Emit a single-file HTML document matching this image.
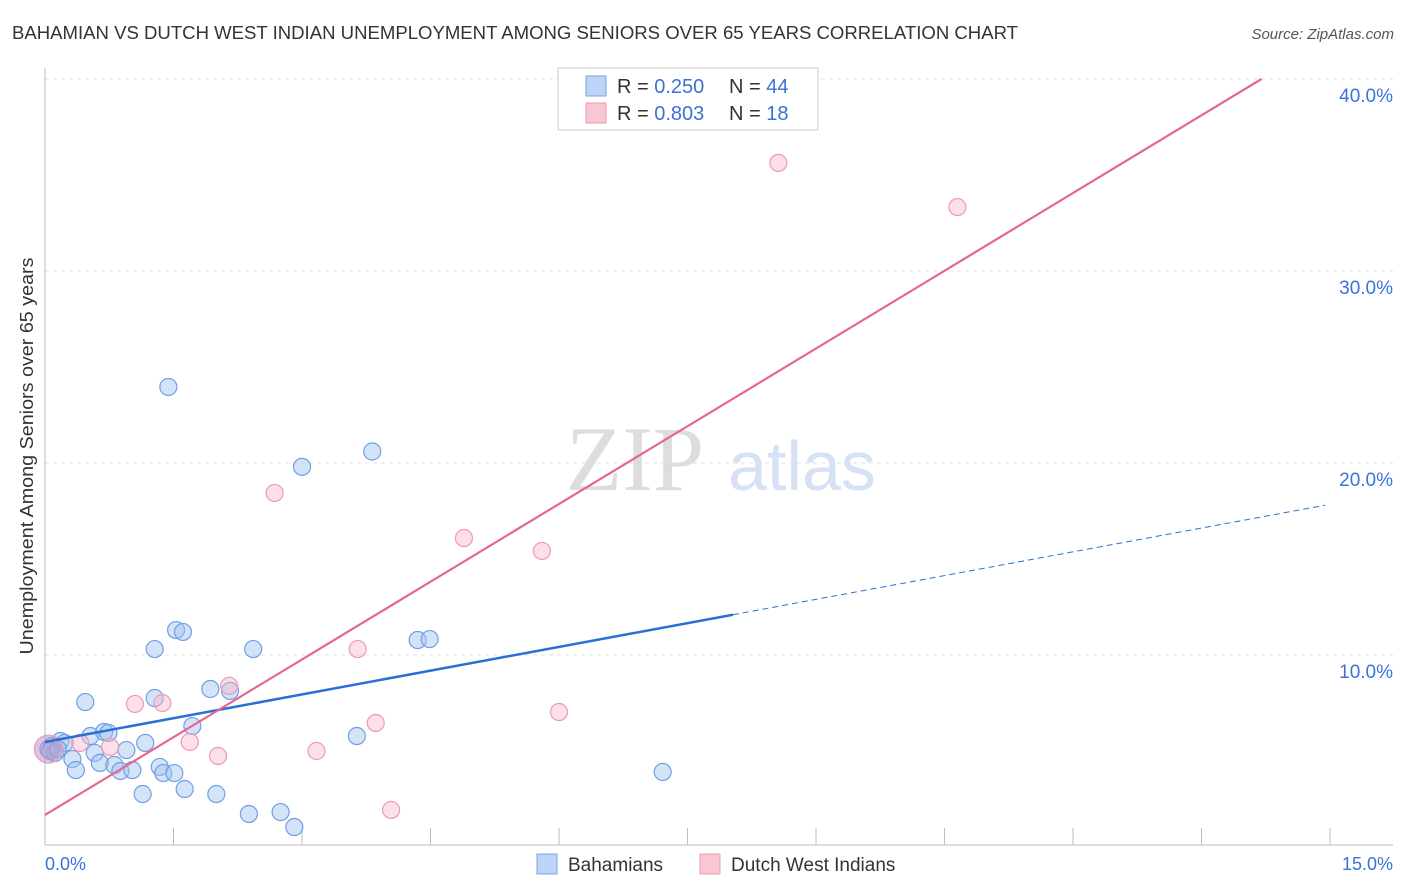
<!DOCTYPE html>
<html><head><meta charset="utf-8"><style>
body{margin:0;background:#fff;font-family:"Liberation Sans",sans-serif}
svg{display:block}
</style></head><body>
<svg width="1406" height="892" xmlns="http://www.w3.org/2000/svg" id="chart">
<text x="12" y="39" font-size="18" fill="#333" textLength="1006" lengthAdjust="spacingAndGlyphs">BAHAMIAN VS DUTCH WEST INDIAN UNEMPLOYMENT AMONG SENIORS OVER 65 YEARS CORRELATION CHART</text>
<text x="1394" y="39" font-size="15" fill="#555" font-style="italic" text-anchor="end">Source: ZipAtlas.com</text>
<g id="grid"></g>
<g>
<text x="635" y="490" font-size="92" fill="#ddd" font-family="Liberation Serif,serif" text-anchor="middle">ZIP</text>
<text x="802" y="490" font-size="70" fill="#d6e2f3" text-anchor="middle">atlas</text>
</g>
<line x1="45" y1="68" x2="45" y2="845" stroke="#bbb"/>
<line x1="45" y1="845" x2="1393" y2="845" stroke="#bbb"/>
<g id="ticks"></g>
<g id="pts"></g>
<g id="lines"></g>
<text transform="translate(33,456) rotate(-90)" font-size="18" fill="#333" text-anchor="middle" textLength="397" lengthAdjust="spacingAndGlyphs">Unemployment Among Seniors over 65 years</text>
<text x="45" y="870" font-size="18" fill="#3a72d8">0.0%</text>
<text x="1393" y="870" font-size="18" fill="#3a72d8" text-anchor="end">15.0%</text>
<g>
<rect x="558" y="68" width="260" height="62" fill="#fff" stroke="#ccc"/>
<rect x="586" y="76" width="20" height="20" fill="#bcd4f5" stroke="#7aa6e6"/>
<rect x="586" y="103" width="20" height="20" fill="#f9c6d4" stroke="#eb9ab1"/>
<text x="617" y="93" font-size="20" fill="#333">R = <tspan fill="#3a72d8">0.250</tspan></text>
<text x="729" y="93" font-size="20" fill="#333">N = <tspan fill="#3a72d8">44</tspan></text>
<text x="617" y="120" font-size="20" fill="#333">R = <tspan fill="#3a72d8">0.803</tspan></text>
<text x="729" y="120" font-size="20" fill="#333">N =  <tspan fill="#3a72d8">18</tspan></text>
</g>
<g>
<rect x="537" y="854" width="20" height="20" fill="#bcd4f5" stroke="#7aa6e6"/>
<text x="568" y="871" font-size="19" fill="#333">Bahamians</text>
<rect x="700" y="854" width="20" height="20" fill="#f9c6d4" stroke="#eb9ab1"/>
<text x="731" y="871" font-size="19" fill="#333">Dutch West Indians</text>
</g>
</svg>
<script>
const yTicks=[10,20,30,40];
const yTickLabels=["10.0%","20.0%","30.0%","40.0%"];
const xTicks=[1.5,3,4.5,6,7.5,9,10.5,12,13.5,15];
const blueX=[0.04,0.08,0.12,0.18,0.23,0.32,0.36,0.47,0.53,0.58,0.64,0.69,0.74,0.81,0.88,0.95,1.02,1.14,1.17,1.28,1.28,1.34,1.38,1.44,1.51,1.53,1.61,1.63,1.72,1.93,2.0,2.16,2.38,2.43,2.75,2.91,3.0,3.64,3.82,4.35,4.49,7.21,0.06,0.15];
const blueY=[5.1,5.26,4.9,5.52,5.42,4.58,4.01,7.55,5.78,4.9,4.38,5.99,5.94,4.27,3.96,5.05,4.01,2.76,5.42,10.31,7.76,4.17,3.85,23.96,3.85,11.3,11.2,3.02,6.3,8.23,2.76,8.13,1.72,10.31,1.82,1.04,19.8,5.78,20.6,10.78,10.83,3.91,5.0,5.1];
const pinkX=[0.04,0.41,0.76,1.05,1.37,1.69,2.02,2.15,2.68,3.17,3.65,3.86,4.04,4.89,5.8,6.0,8.56,10.65];
const pinkY=[5.1,5.42,5.21,7.45,7.5,5.47,4.74,8.39,18.44,5.0,10.31,6.46,1.93,16.09,15.42,7.03,35.63,33.33];
const blueLine=[5.47,17.85], pinkLine=[1.67,40];
const X=v=>45+v*85.67, Y=v=>847-v*19.2;
const NS="http://www.w3.org/2000/svg";
function mk(t,a,p){const e=document.createElementNS(NS,t);for(const k in a)e.setAttribute(k,a[k]);p.appendChild(e);return e;}
const grid=document.getElementById('grid'),ticks=document.getElementById('ticks'),pts=document.getElementById('pts'),lines=document.getElementById('lines');
yTicks.forEach((v,i)=>{
 const l=mk('line',{x1:45,x2:1393,y1:Y(v),y2:Y(v),stroke:'#e2e2e2','stroke-dasharray':'4,4'},grid);
 
 
 const t=mk('text',{x:1393,y:Y(v)+23,'font-size':19,fill:'#3a72d8','text-anchor':'end'},ticks);
 t.textContent=yTickLabels[i];
 
 
});
mk('line',{x1:45,x2:1393,y1:79,y2:79,stroke:'#e2e2e2','stroke-dasharray':'4,4'},grid);
xTicks.forEach(v=>{
 const l=mk('line',{x1:X(v),x2:X(v),y1:828,y2:845,stroke:'#bbb'},ticks);
 
 
});
blueX.forEach((v,i)=>{
 const c=mk('circle',{cx:X(v),cy:Y(blueY[i]),r:8.5,fill:'rgba(160,195,240,0.45)',stroke:'#6f9fe3','stroke-width':1.2},pts);
 
 
});
pinkX.forEach((v,i)=>{
 const c=mk('circle',{cx:X(v),cy:Y(pinkY[i]),r:i==0?14:8.5,fill:i==0?'rgba(190,150,200,0.55)':'rgba(248,185,205,0.45)',stroke:'#ee9ab4','stroke-width':1.2},pts);
 
 
});
const bAt=x=>blueLine[0]+(blueLine[1]-blueLine[0])*x/15;
const b1=mk('line',{x1:X(0),y1:Y(bAt(0)),x2:X(8.03),y2:Y(bAt(8.03)),stroke:'#2a6fd6','stroke-width':2.5},lines);


const b2=mk('line',{x1:X(8.03),y1:Y(bAt(8.03)),x2:X(14.94),y2:Y(bAt(14.94)),stroke:'#2a6fd6','stroke-width':1,'stroke-dasharray':'6,4'},lines);


const p=mk('line',{x1:X(0),y1:Y(pinkLine[0]),x2:X(14.2),y2:Y(pinkLine[1]),stroke:'#e4678f','stroke-width':2.2},lines);


</script>
</body></html>
